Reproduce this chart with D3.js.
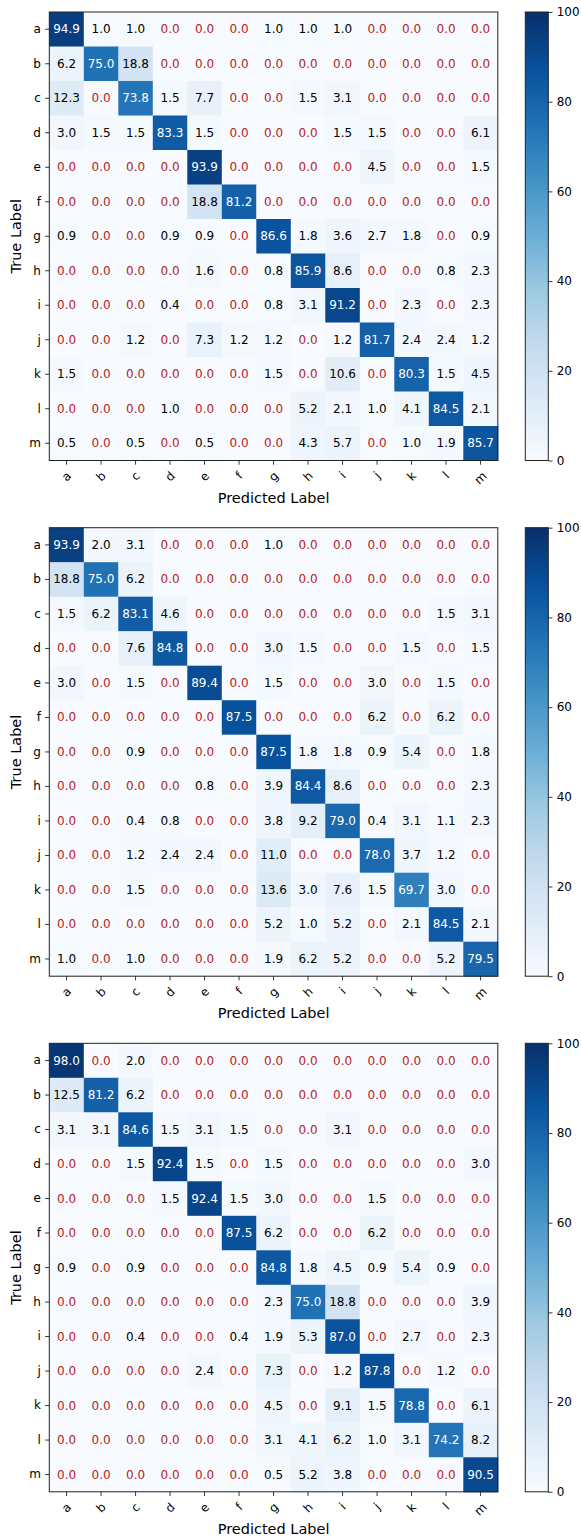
<!DOCTYPE html>
<html>
<head>
<meta charset="utf-8">
<script src="https://cdn.jsdelivr.net/npm/d3@7"></script>
<style>
  body { margin: 0; background: #fff; }
  svg { display: block; font-family: "DejaVu Sans", sans-serif; }
</style>
</head>
<body>
<svg id="cm-svg" width="581" height="1537"></svg>
<script>
// class labels, shared by rows (true) and columns (predicted)
const classLabels = ['a', 'b', 'c', 'd', 'e', 'f', 'g', 'h', 'i', 'j', 'k', 'l', 'm'];

// row-normalised confusion matrices (%), one per panel, top to bottom
const matrixTop = [
    [94.9, 1.0, 1.0, 0.0, 0.0, 0.0, 1.0, 1.0, 1.0, 0.0, 0.0, 0.0, 0.0],
    [6.2, 75.0, 18.8, 0.0, 0.0, 0.0, 0.0, 0.0, 0.0, 0.0, 0.0, 0.0, 0.0],
    [12.3, 0.0, 73.8, 1.5, 7.7, 0.0, 0.0, 1.5, 3.1, 0.0, 0.0, 0.0, 0.0],
    [3.0, 1.5, 1.5, 83.3, 1.5, 0.0, 0.0, 0.0, 1.5, 1.5, 0.0, 0.0, 6.1],
    [0.0, 0.0, 0.0, 0.0, 93.9, 0.0, 0.0, 0.0, 0.0, 4.5, 0.0, 0.0, 1.5],
    [0.0, 0.0, 0.0, 0.0, 18.8, 81.2, 0.0, 0.0, 0.0, 0.0, 0.0, 0.0, 0.0],
    [0.9, 0.0, 0.0, 0.9, 0.9, 0.0, 86.6, 1.8, 3.6, 2.7, 1.8, 0.0, 0.9],
    [0.0, 0.0, 0.0, 0.0, 1.6, 0.0, 0.8, 85.9, 8.6, 0.0, 0.0, 0.8, 2.3],
    [0.0, 0.0, 0.0, 0.4, 0.0, 0.0, 0.8, 3.1, 91.2, 0.0, 2.3, 0.0, 2.3],
    [0.0, 0.0, 1.2, 0.0, 7.3, 1.2, 1.2, 0.0, 1.2, 81.7, 2.4, 2.4, 1.2],
    [1.5, 0.0, 0.0, 0.0, 0.0, 0.0, 1.5, 0.0, 10.6, 0.0, 80.3, 1.5, 4.5],
    [0.0, 0.0, 0.0, 1.0, 0.0, 0.0, 0.0, 5.2, 2.1, 1.0, 4.1, 84.5, 2.1],
    [0.5, 0.0, 0.5, 0.0, 0.5, 0.0, 0.0, 4.3, 5.7, 0.0, 1.0, 1.9, 85.7]
];

const matrixMiddle = [
    [93.9, 2.0, 3.1, 0.0, 0.0, 0.0, 1.0, 0.0, 0.0, 0.0, 0.0, 0.0, 0.0],
    [18.8, 75.0, 6.2, 0.0, 0.0, 0.0, 0.0, 0.0, 0.0, 0.0, 0.0, 0.0, 0.0],
    [1.5, 6.2, 83.1, 4.6, 0.0, 0.0, 0.0, 0.0, 0.0, 0.0, 0.0, 1.5, 3.1],
    [0.0, 0.0, 7.6, 84.8, 0.0, 0.0, 3.0, 1.5, 0.0, 0.0, 1.5, 0.0, 1.5],
    [3.0, 0.0, 1.5, 0.0, 89.4, 0.0, 1.5, 0.0, 0.0, 3.0, 0.0, 1.5, 0.0],
    [0.0, 0.0, 0.0, 0.0, 0.0, 87.5, 0.0, 0.0, 0.0, 6.2, 0.0, 6.2, 0.0],
    [0.0, 0.0, 0.9, 0.0, 0.0, 0.0, 87.5, 1.8, 1.8, 0.9, 5.4, 0.0, 1.8],
    [0.0, 0.0, 0.0, 0.0, 0.8, 0.0, 3.9, 84.4, 8.6, 0.0, 0.0, 0.0, 2.3],
    [0.0, 0.0, 0.4, 0.8, 0.0, 0.0, 3.8, 9.2, 79.0, 0.4, 3.1, 1.1, 2.3],
    [0.0, 0.0, 1.2, 2.4, 2.4, 0.0, 11.0, 0.0, 0.0, 78.0, 3.7, 1.2, 0.0],
    [0.0, 0.0, 1.5, 0.0, 0.0, 0.0, 13.6, 3.0, 7.6, 1.5, 69.7, 3.0, 0.0],
    [0.0, 0.0, 0.0, 0.0, 0.0, 0.0, 5.2, 1.0, 5.2, 0.0, 2.1, 84.5, 2.1],
    [1.0, 0.0, 1.0, 0.0, 0.0, 0.0, 1.9, 6.2, 5.2, 0.0, 0.0, 5.2, 79.5]
];

const matrixBottom = [
    [98.0, 0.0, 2.0, 0.0, 0.0, 0.0, 0.0, 0.0, 0.0, 0.0, 0.0, 0.0, 0.0],
    [12.5, 81.2, 6.2, 0.0, 0.0, 0.0, 0.0, 0.0, 0.0, 0.0, 0.0, 0.0, 0.0],
    [3.1, 3.1, 84.6, 1.5, 3.1, 1.5, 0.0, 0.0, 3.1, 0.0, 0.0, 0.0, 0.0],
    [0.0, 0.0, 1.5, 92.4, 1.5, 0.0, 1.5, 0.0, 0.0, 0.0, 0.0, 0.0, 3.0],
    [0.0, 0.0, 0.0, 1.5, 92.4, 1.5, 3.0, 0.0, 0.0, 1.5, 0.0, 0.0, 0.0],
    [0.0, 0.0, 0.0, 0.0, 0.0, 87.5, 6.2, 0.0, 0.0, 6.2, 0.0, 0.0, 0.0],
    [0.9, 0.0, 0.9, 0.0, 0.0, 0.0, 84.8, 1.8, 4.5, 0.9, 5.4, 0.9, 0.0],
    [0.0, 0.0, 0.0, 0.0, 0.0, 0.0, 2.3, 75.0, 18.8, 0.0, 0.0, 0.0, 3.9],
    [0.0, 0.0, 0.4, 0.0, 0.0, 0.4, 1.9, 5.3, 87.0, 0.0, 2.7, 0.0, 2.3],
    [0.0, 0.0, 0.0, 0.0, 2.4, 0.0, 7.3, 0.0, 1.2, 87.8, 0.0, 1.2, 0.0],
    [0.0, 0.0, 0.0, 0.0, 0.0, 0.0, 4.5, 0.0, 9.1, 1.5, 78.8, 0.0, 6.1],
    [0.0, 0.0, 0.0, 0.0, 0.0, 0.0, 3.1, 4.1, 6.2, 1.0, 3.1, 74.2, 8.2],
    [0.0, 0.0, 0.0, 0.0, 0.0, 0.0, 0.5, 5.2, 3.8, 0.0, 0.0, 0.0, 90.5]
];

const colorbarTicks = [0, 20, 40, 60, 80, 100];

(function() {
    const svg = d3.select('#cm-svg');

    // panel geometry (pixels)
    const plotLeft = 49.3;
    const plotSize = 448.5;
    const panelTops = [12, 527.7, 1043.3];
    const cbLeft = 525.3;
    const cbWidth = 23;
    const tickLen = 4.2;
    const tickPad = 4.2;

    // matplotlib "Blues" anchor colours
    const blues = ['#f7fbff', '#deebf7', '#c6dbef', '#9ecae1', '#6baed6',
                   '#4292c6', '#2171b5', '#08519c', '#08306b'];
    const color = d3.scaleLinear()
        .domain(d3.range(blues.length).map(i => i * 100 / (blues.length - 1)))
        .range(blues)
        .clamp(true);

    // gradient for colorbars
    const defs = svg.append('defs');
    const grad = defs.append('linearGradient')
        .attr('id', 'blues-grad')
        .attr('x1', 0).attr('y1', 1).attr('x2', 0).attr('y2', 0);
    blues.forEach((c, i) => {
        grad.append('stop')
            .attr('offset', `${i / (blues.length - 1) * 100}%`)
            .attr('stop-color', c);
    });

    function drawPanel(matrix, top) {
        const g = svg.append('g');

        const x = d3.scaleBand().domain(classLabels).range([plotLeft, plotLeft + plotSize]);
        const y = d3.scaleBand().domain(classLabels).range([top, top + plotSize]);

        const cells = [];
        matrix.forEach((row, i) => {
            row.forEach((v, j) => {
                cells.push({ t: classLabels[i], p: classLabels[j], v: v });
            });
        });

        // heatmap cells
        g.selectAll('.cell')
            .data(cells)
            .enter().append('rect')
            .attr('class', 'cell')
            .attr('x', d => x(d.p))
            .attr('y', d => y(d.t))
            .attr('width', x.bandwidth() + 0.5)
            .attr('height', y.bandwidth() + 0.5)
            .attr('fill', d => color(d.v));

        // cell annotations
        g.selectAll('.val')
            .data(cells)
            .enter().append('text')
            .attr('class', 'val')
            .attr('x', d => x(d.p) + x.bandwidth() / 2)
            .attr('y', d => y(d.t) + y.bandwidth() / 2)
            .attr('text-anchor', 'middle')
            .attr('dominant-baseline', 'central')
            .attr('font-size', '12px')
            .attr('fill', d => d.v === 0 ? '#b22222' : (d.v > 50 ? '#ffffff' : '#000000'))
            .text(d => d.v.toFixed(1));

        // frame
        g.append('rect')
            .attr('x', plotLeft)
            .attr('y', top)
            .attr('width', plotSize)
            .attr('height', plotSize)
            .attr('fill', 'none')
            .attr('stroke', '#222')
            .attr('stroke-width', 1);

        // y axis
        const yAxis = g.append('g')
            .attr('transform', `translate(${plotLeft}, 0)`)
            .call(d3.axisLeft(y).tickSize(tickLen).tickPadding(tickPad));
        yAxis.select('.domain').remove();
        yAxis.selectAll('line').attr('stroke', '#222').attr('stroke-width', 0.9);
        yAxis.selectAll('text')
            .attr('font-family', '"DejaVu Sans", sans-serif')
            .attr('font-size', '12px')
            .attr('fill', '#000');

        // x axis with rotated labels
        const xAxis = g.append('g')
            .attr('transform', `translate(0, ${top + plotSize})`)
            .call(d3.axisBottom(x).tickSize(tickLen).tickFormat(''));
        xAxis.select('.domain').remove();
        xAxis.selectAll('line').attr('stroke', '#222').attr('stroke-width', 0.9);

        g.selectAll('.xlab')
            .data(classLabels)
            .enter().append('text')
            .attr('class', 'xlab')
            .attr('font-size', '12px')
            .attr('text-anchor', 'middle')
            .attr('dominant-baseline', 'central')
            .text(d => d)
            .each(function(d) {
                const w = this.getComputedTextLength();
                const half = (w + 14) * 0.7071 / 2;
                const cy = top + plotSize + tickLen + tickPad + half;
                d3.select(this).attr('transform', `translate(${x(d) + x.bandwidth() / 2}, ${cy}) rotate(-45)`);
            });

        // axis titles
        g.append('text')
            .attr('x', plotLeft + plotSize / 2)
            .attr('y', top + plotSize + 37)
            .attr('text-anchor', 'middle')
            .attr('dominant-baseline', 'central')
            .attr('font-size', '14.5px')
            .text('Predicted Label');

        g.append('text')
            .attr('transform', `translate(15.5, ${top + plotSize / 2}) rotate(-90)`)
            .attr('text-anchor', 'middle')
            .attr('dominant-baseline', 'central')
            .attr('font-size', '14.5px')
            .text('True Label');

        // colorbar
        const cbScale = d3.scaleLinear().domain([0, 100]).range([top + plotSize, top]);
        g.append('rect')
            .attr('x', cbLeft)
            .attr('y', top)
            .attr('width', cbWidth)
            .attr('height', plotSize)
            .attr('fill', 'url(#blues-grad)')
            .attr('stroke', '#222')
            .attr('stroke-width', 1);

        const cbAxis = g.append('g')
            .attr('transform', `translate(${cbLeft + cbWidth}, 0)`)
            .call(d3.axisRight(cbScale).tickValues(colorbarTicks).tickSize(tickLen).tickPadding(tickPad));
        cbAxis.select('.domain').remove();
        cbAxis.selectAll('line').attr('stroke', '#222').attr('stroke-width', 0.9);
        cbAxis.selectAll('text')
            .attr('font-family', '"DejaVu Sans", sans-serif')
            .attr('font-size', '12px')
            .attr('fill', '#000');
    }

    drawPanel(matrixTop, panelTops[0]);
    drawPanel(matrixMiddle, panelTops[1]);
    drawPanel(matrixBottom, panelTops[2]);
})();
</script>
</body>
</html>
